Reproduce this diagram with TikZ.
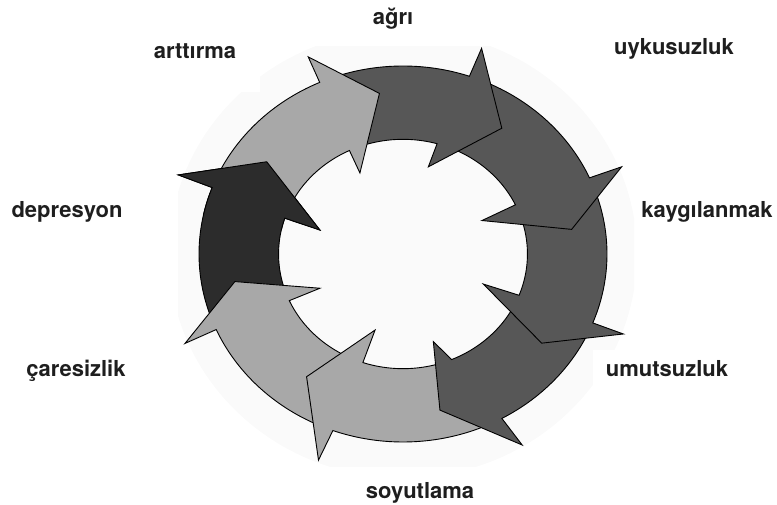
\documentclass[tikz,border=0pt]{standalone}
\usepackage{fontspec}
\setmainfont{TeX Gyre Heros}
\definecolor{lightarrow}{HTML}{A8A8A8}
\definecolor{darkarrow}{HTML}{575757}
\definecolor{blackarrow}{HTML}{2C2C2C}
\definecolor{faintbg}{HTML}{FAFAFA}
\definecolor{labeltext}{HTML}{1E1E1E}
\def\rin{0.61}
% #1 colour, #2 tail outer angle, #3 tail inner angle, #4 outer notch angle,
% #5 outer barb, #6 tip, #7 inner barb, #8 inner notch angle
\newcommand{\ringarrow}[8]{%
  \filldraw[arrowpart, fill=#1]
    plot[domain=#2:#4, samples=40, variable=\t] ({cos(\t)},{sin(\t)})
    -- (#5) -- (#6) -- (#7)
    -- plot[domain=#8:#3, samples=40, variable=\t] ({\rin*cos(\t)},{\rin*sin(\t)})
    -- cycle;}
\tikzset{
  arrowpart/.style={draw=black, line width=0.9pt, line join=miter},
  steplabel/.style={font=\bfseries\fontsize{22}{24}\selectfont, text=labeltext, anchor=base, inner sep=0pt}
}
\begin{document}
\begin{tikzpicture}[x=1pt,y=-1pt]
\useasboundingbox (0,0) rectangle (777,505);
% faint background
\begin{scope}
  \clip (178,47) rectangle (634,466);
  \fill[faintbg] (403,254) ellipse [x radius=234, y radius=224];
\end{scope}
\fill[white] (170,40) rectangle (260,92);
\fill[white] (593,350) rectangle (640,470);
% ring of arrows
\begin{scope}[shift={(403,254)}, x={(204pt,0pt)}, y={(0pt,188pt)}]
  \ringarrow{blackarrow}{199.7}{200}{159.3}{159.1:1.179}{143.7:0.829}{162.6:0.427}{161.8}
  \ringarrow{lightarrow}{245.9}{247.2}{203.7}{204:1.17}{190.1:0.837}{204.1:0.446}{204}
  \ringarrow{lightarrow}{295}{289}{249.9}{249.3:1.172}{234.1:0.806}{251.3:0.427}{251.2}
  \ringarrow{darkarrow}{-25.5}{-25.1}{-61}{-60.1:1.172}{-77.7:0.85}{-72.3:0.489}{-67}
  \ringarrow{darkarrow}{19.9}{21.4}{-21.5}{-21.5:1.161}{-34.9:0.829}{-22.1:0.425}{-21.1}
  \ringarrow{darkarrow}{67}{70.1}{23.9}{23.4:1.168}{9.0:0.837}{24.7:0.426}{25.4}
  \ringarrow{darkarrow}{110.1}{111.5}{71}{70.6:1.16}{54.1:0.826}{75:0.48}{74.1}
  \ringarrow{lightarrow}{155.3}{157.8}{114.1}{113.9:1.147}{97.7:0.862}{116.1:0.48}{115.5}
  \begin{scope}
    \clip (0,0) -- (128:1.6) -- (145:1.7) -- (168:1.6) -- cycle;
    \ringarrow{blackarrow}{199.7}{200}{159.3}{159.1:1.179}{143.7:0.829}{162.6:0.427}{161.8}
  \end{scope}
\end{scope}
% labels
\node[steplabel] (agri) at (393,25) {ağrı};
\node[steplabel] (uyku) at (674,55) {uykusuzluk};
\node[steplabel] (kaygi) at (707,218) {kaygılanmak};
\node[steplabel] (umut) at (667,376) {umutsuzluk};
\node[steplabel] (soyut) at (420,498) {soyutlama};
\node[steplabel] (care) at (76,376) {çaresizlik};
\node[steplabel] (depr) at (67,218) {depresyon};
\node[steplabel] (artt) at (195,59) {arttırma};
\end{tikzpicture}
\end{document}
